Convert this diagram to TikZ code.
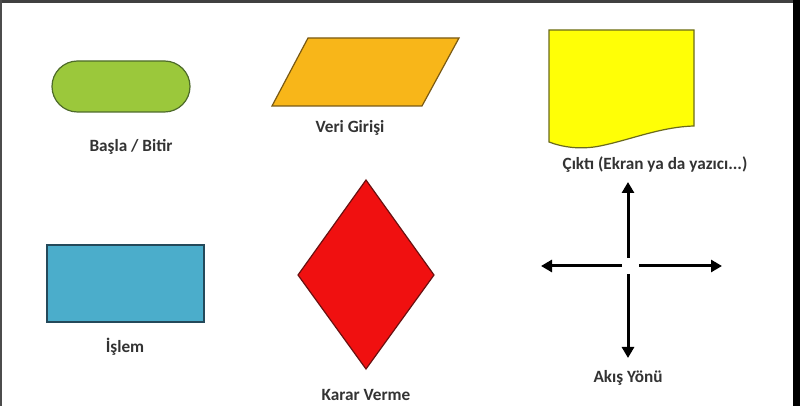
\documentclass[tikz,border=0pt]{standalone}
\usepackage{fontspec}
\setmainfont{Carlito}
\usetikzlibrary{arrows.meta}
\definecolor{txtgray}{HTML}{333333}
\definecolor{termgreen}{HTML}{9BC83B}
\definecolor{termedge}{HTML}{4E6B2A}
\definecolor{parorange}{HTML}{F8B619}
\definecolor{paredge}{HTML}{7A5A14}
\definecolor{docyellow}{HTML}{FFFF06}
\definecolor{docedge}{HTML}{6B6A1C}
\definecolor{procblue}{HTML}{4BADCB}
\definecolor{procedge}{HTML}{24495A}
\definecolor{decred}{HTML}{F01010}
\definecolor{decedge}{HTML}{6A1010}
\tikzset{
  lbl/.style={font=\fontsize{8.6pt}{10pt}\selectfont\bfseries, text=txtgray, inner sep=0pt, anchor=center},
  shapeedge/.style={line width=0.6pt, line join=miter},
  flow/.style={line width=1.5pt, -{Triangle[length=5.5pt,width=6pt]}}
}
\begin{document}
\begin{tikzpicture}[x=0.5pt,y=-0.5pt]
\useasboundingbox (0,0) rectangle (800,406);
\fill[white] (0,0) rectangle (800,406);
% frame of the screenshot
\fill[black!75] (0,0) rectangle (800,3);
\fill[black!70] (0,0) rectangle (2,406);
\fill[black] (793,0) rectangle (800,406);
% terminator
\node[shapeedge, draw=termedge, fill=termgreen, rounded corners=12.75, minimum width=69pt, minimum height=25.5pt, inner sep=0pt] (term) at (121,86.5) {};
\node[lbl] (termlbl) at (131,147) {Başla / Bitir};
% data input
\filldraw[shapeedge, draw=paredge, fill=parorange] (308,38) -- (459,38) -- (422,106) -- (272,106) -- cycle;
\node[lbl] (inlbl) at (350,128) {Veri Girişi};
% document
\filldraw[shapeedge, draw=docedge, fill=docyellow] (549,30) -- (694,30) -- (694,126)
  .. controls (660,127) and (630,140) .. (600,146)
  .. controls (580,150) and (562,147) .. (549,142) -- cycle;
\node[lbl] (doclbl) at (655,165) {Çıktı (Ekran ya da yazıcı...)};
% process
\filldraw[shapeedge, draw=procedge, fill=procblue] (47,245) rectangle (204,322);
\node[lbl] (proclbl) at (125,347) {İşlem};
% decision
\filldraw[shapeedge, draw=decedge, fill=decred] (366,180) -- (434,275) -- (366,369) -- (298,275) -- cycle;
\node[lbl] (declbl) at (366,395) {Karar Verme};
% flow directions
\coordinate (c) at (628,266);
\coordinate (cu) at (628,258);
\coordinate (cd) at (628,274);
\coordinate (cl) at (622,266);
\coordinate (cr) at (639,266);
\coordinate (tu) at (628,182);
\coordinate (td) at (628,358);
\coordinate (tl) at (541,266);
\coordinate (tr) at (722,266);
\draw[flow] (cu) -- (tu);
\draw[flow] (cd) -- (td);
\draw[flow] (cl) -- (tl);
\draw[flow] (cr) -- (tr);
\node[lbl] (flowlbl) at (628,378) {Akış Yönü};
\end{tikzpicture}
\end{document}
